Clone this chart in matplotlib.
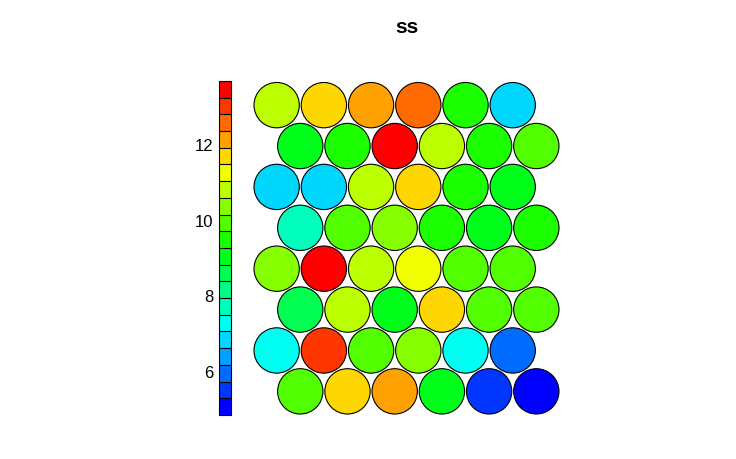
import colorsys
import matplotlib
matplotlib.use("Agg")
import matplotlib.pyplot as plt
import numpy as np
from matplotlib.colors import ListedColormap, BoundaryNorm
from matplotlib.cm import ScalarMappable
from matplotlib.patches import Circle

# SOM unit property values, rows listed from bottom to top (6 units per row)
row0 = [9.9, 11.7, 12.2, 9.1, 5.5, 4.85]
row1 = [7.3, 13.0, 9.9, 10.4, 7.2, 6.0]
row2 = [8.6, 10.8, 9.1, 11.7, 9.9, 10.0]
row3 = [10.4, 13.7, 10.8, 11.3, 9.9, 10.0]
row4 = [7.7, 9.9, 10.4, 9.5, 9.1, 9.5]
row5 = [6.8, 6.9, 10.8, 11.7, 9.5, 9.0]
row6 = [9.0, 9.5, 13.5, 10.8, 9.5, 10.0]
row7 = [10.8, 11.7, 12.2, 12.6, 9.5, 6.8]
rows = [row0, row1, row2, row3, row4, row5, row6, row7]
cbar_ticks = [6, 8, 10, 12]
title = "ss"

ncolors = 20
# kohonen default palette: rainbow(n, end=4/6) reversed
hues = np.linspace(4 / 6, 0, ncolors)
cmap = ListedColormap([colorsys.hsv_to_rgb(h, 1, 1) for h in hues])

vals = np.array(rows)
bounds = np.linspace(vals.min(), vals.max(), ncolors + 1)
norm = BoundaryNorm(bounds, ncolors)

fig = plt.figure(figsize=(7.36, 4.59), dpi=100)
ax = fig.add_axes([0.3436, 0.0908, 0.4174, 0.7375])
ax.set_xlim(0.5, 7.0)
ax.set_ylim(-0.55, 6.62)
ax.set_aspect("equal")
ax.axis("off")

for r, row in enumerate(rows):
    for c, v in enumerate(row):
        x = c + 1 + (0.5 if r % 2 == 0 else 0)
        y = r * np.sqrt(3) / 2
        ax.add_patch(Circle((x, y), 0.48, facecolor=cmap(norm(v)),
                            edgecolor="black", linewidth=0.8))

cax = fig.add_axes([0.2976, 0.0959, 0.0163, 0.7277])
cb = fig.colorbar(ScalarMappable(norm=norm, cmap=cmap), cax=cax,
                  ticks=cbar_ticks, drawedges=True)
cb.minorticks_off()
cb.outline.set_linewidth(0.8)
cb.dividers.set_linewidth(0.8)
cax.yaxis.set_ticks_position("left")
cax.tick_params(which="both", length=0, pad=4, labelsize=12)
for t in cax.get_yticklabels():
    t.set_fontfamily("Liberation Sans")

fig.text(0.5523, 0.941, title, ha="center", va="center",
         fontsize=15, fontweight="bold", family="Liberation Sans")

fig.savefig("out.png", dpi=100)
